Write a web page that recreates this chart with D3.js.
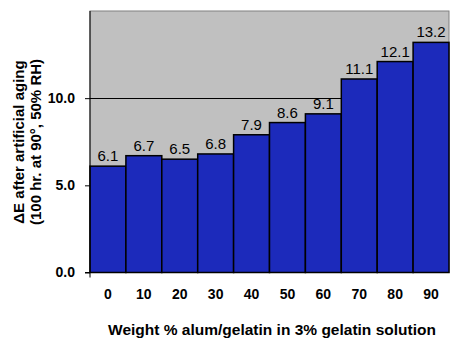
<!DOCTYPE html>
<html><head><meta charset="utf-8">
<script src="https://cdn.jsdelivr.net/npm/d3@7"></script>
<style>body{margin:0;background:#fff}text{font-family:Arial,"Liberation Sans",sans-serif}</style>
</head><body><svg id="c" width="467" height="352"></svg>
<script>
const categories = ["0","10","20","30","40","50","60","70","80","90"];
const values = [6.1,6.7,6.5,6.8,7.9,8.6,9.1,11.1,12.1,13.2];
const yTicks = [0,5,10];
const xTitle = "Weight % alum/gelatin in 3% gelatin solution";
const yTitle1 = "\u0394E after artificial aging";
const yTitle2 = "(100 hr. at 90\u00b0, 50% RH)";

const FF = "Arial, 'Liberation Sans', sans-serif";
const svg = d3.select("#c");
const L=90,R=449,T=11,B=272.5;
const x = d3.scaleBand().domain(categories).range([L,R]).padding(0);
const y = d3.scaleLinear().domain([0,15]).range([B,T]);

svg.append("rect").attr("x",L).attr("y",T).attr("width",R-L).attr("height",B-T)
  .attr("fill","#c0c0c0").attr("stroke","#808080").attr("stroke-width",1);
svg.append("line").attr("x1",L).attr("x2",R).attr("y1",Math.round(y(10))+0.5).attr("y2",Math.round(y(10))+0.5)
  .attr("stroke","#000");

svg.selectAll(".bar").data(values).enter().append("rect")
  .attr("x",(d,i)=>x(categories[i])).attr("y",d=>y(d))
  .attr("width",x.bandwidth()).attr("height",d=>B-y(d))
  .attr("fill","#1c2abb").attr("stroke","#000").attr("stroke-width",1.5);

svg.selectAll(".lbl").data(values).enter().append("text")
  .attr("x",(d,i)=>x(categories[i])+x.bandwidth()/2).attr("y",d=>y(d)-5)
  .attr("text-anchor","middle").attr("font-size",15).attr("fill","#000")
  .text(d=>d.toFixed(1));

const ya = svg.append("g").attr("transform",`translate(${L},0)`)
  .call(d3.axisLeft(y).tickValues(yTicks).tickSize(5).tickPadding(10).tickFormat(d3.format(".1f")));
ya.select(".domain").attr("stroke","#000").attr("d",`M0,${T}V${B}`);
ya.selectAll("text").attr("font-size",14).attr("font-weight","bold").attr("font-family",FF).attr("fill","#000");
ya.selectAll("line").attr("stroke","#000");

const xa = svg.append("g").attr("transform",`translate(0,${B})`)
  .call(d3.axisBottom(x).tickSize(0).tickPadding(17));
xa.select(".domain").attr("stroke","#000").attr("d",`M${L-5},0H${R}`);
xa.selectAll("text").attr("font-size",14).attr("font-weight","bold").attr("font-family",FF).attr("fill","#000");
svg.append("line").attr("x1",L).attr("x2",L).attr("y1",B).attr("y2",B+5).attr("stroke","#000");

svg.append("text").attr("x",272).attr("y",335).attr("text-anchor","middle")
  .attr("font-size",15.5).attr("font-weight","bold").text(xTitle);
const yt = svg.append("text").attr("transform","translate(0,142) rotate(-90)").attr("text-anchor","middle")
  .attr("font-size",15).attr("font-weight","bold");
yt.append("tspan").attr("x",0).attr("y",24).text(yTitle1);
yt.append("tspan").attr("x",0).attr("y",41).text(yTitle2);
</script></body></html>
